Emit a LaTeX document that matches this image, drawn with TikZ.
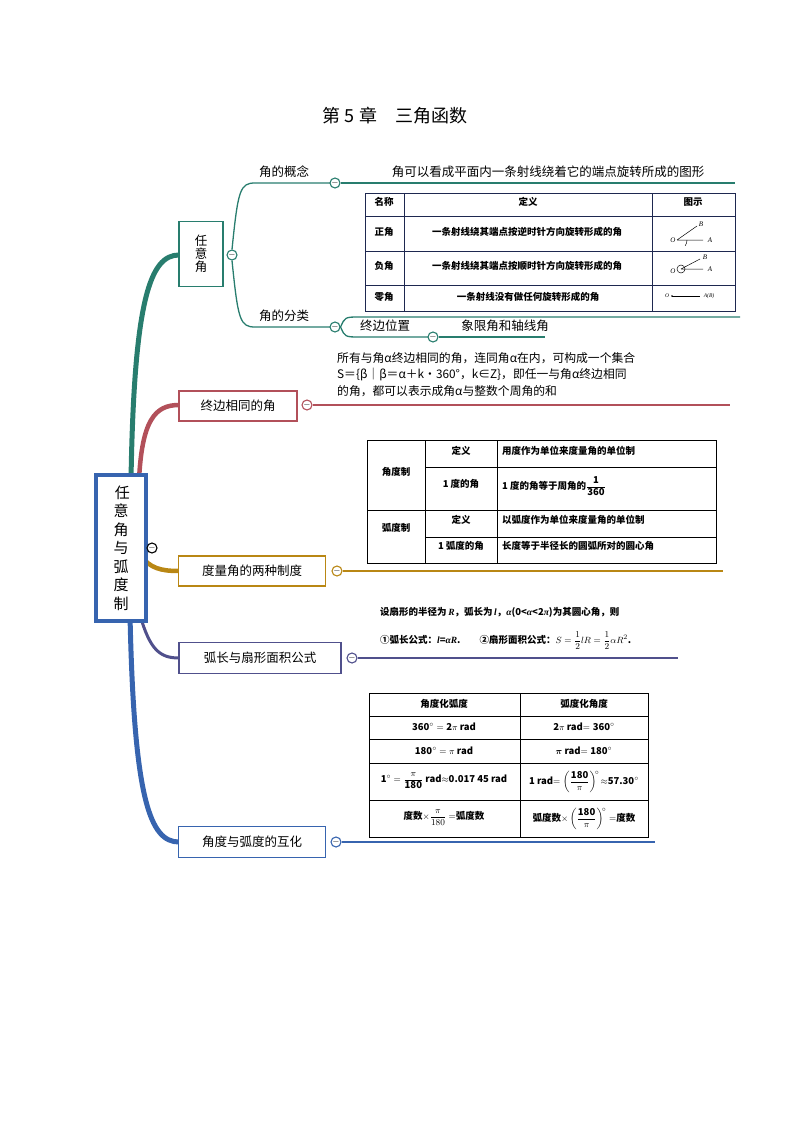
\documentclass[tikz,border=0pt]{standalone}
\usepackage{fontspec}
\setmainfont{Noto Sans CJK SC}
\newfontfamily\ser{Liberation Serif}
\usepackage{amsmath}
\begin{document}
\begin{tikzpicture}[x=1pt,y=-1pt,
 mc/.style={circle,draw,line width=1.1pt,inner sep=0pt,minimum size=10pt,fill=white,font=\fontsize{9}{9}\selectfont,text depth=0pt},
 bx/.style={draw,line width=1.4pt,fill=white,inner sep=0pt,font=\fontsize{12.5}{13}\selectfont},
 lab/.style={font=\fontsize{12.5}{13}\selectfont,inner sep=0pt},
 tb/.style={font=\fontsize{9.5}{10}\selectfont\bfseries,inner sep=0pt},
 tt/.style={draw=black,line width=1pt}]
\useasboundingbox (0,0) rectangle (794,1123);
\definecolor{teal}{RGB}{40,125,110}
\definecolor{red2}{RGB}{178,80,90}
\definecolor{gold}{RGB}{185,135,20}
\definecolor{purp}{RGB}{80,80,140}
\definecolor{blu}{RGB}{55,100,175}
\definecolor{tbl}{RGB}{30,40,80}
\node[font=\fontsize{18}{18}\selectfont] (title) at (395,116) {第 5 章\quad 三角函数};
% branches
\draw[teal,line width=5pt] (131,480) .. controls (134,300) and (150,255) .. (179,255);
\draw[red2,line width=4.5pt] (139,480) .. controls (142,420) and (155,405) .. (179,405);
\draw[gold,line width=4.5pt] (140,555) .. controls (150,568) and (160,571) .. (179,571);
\draw[purp,line width=3pt] (140,615) .. controls (150,650) and (160,658) .. (179,658);
\draw[blu,line width=5pt] (130,615) .. controls (134,800) and (150,842) .. (179,842);
% center
\node[draw=blu,line width=3.5pt,fill=white,minimum width=50pt,minimum height=146pt,inner sep=0pt,font=\fontsize{15}{18.5}\selectfont,align=center] (c) at (121,548) {\,任\\意\\角\\与\\弧\\度\\制};
\node[mc,draw=black] (cm) at (152,548) {$-$};
% branch 1
\node[bx,draw=teal,minimum width=44pt,minimum height=65pt,align=center] (b1) at (201,254) {任\\意\\角};
\node[mc,draw=teal] (m1) at (232,255) {$-$};
\draw[teal,line width=1.3pt] (m1.north) .. controls (238,190) and (240,183) .. (255,183) -- (330,183);
\node[mc,draw=teal] (m11) at (335,183) {$-$};
\draw[teal,line width=1.3pt] (m11) -- (735,183);
\node[lab] (t11) at (284,172) {角的概念};
\node[lab] (t12) at (548,172) {角可以看成平面内一条射线绕着它的端点旋转所成的图形};
\draw[teal,line width=1.3pt] (m1.south) .. controls (238,320) and (240,327) .. (255,327) -- (330,327);
\node[lab] (t13) at (284,316) {角的分类};
\node[mc,draw=teal] (m12) at (335,327) {$-$};
\draw[teal,line width=1.3pt] (m12.east) .. controls (345,317) .. (360,317) -- (740,317);
\draw[teal,line width=1.3pt] (m12.east) .. controls (345,337) .. (360,337) -- (428,337);
\node[mc,draw=teal] (m13) at (433,337) {$-$};
\draw[teal,line width=1.3pt] (m13) -- (545,337);
\node[lab] (t14) at (385,326) {终边位置};
\node[lab] (t15) at (505,326) {象限角和轴线角};
% table 1
\draw[tt,draw=tbl] (365,194) rectangle (735,311);
\draw[tt,draw=tbl] (404,194)--(404,311) (652,194)--(652,311) (365,217)--(735,217) (365,251)--(735,251) (365,285)--(735,285);
\node[tb] at (384,202) {名称}; \node[tb] at (528,202) {定义}; \node[tb] at (693,202) {图示};
\node[tb] at (384,232) {正角}; \node[tb] at (527,232) {一条射线绕其端点按逆时针方向旋转形成的角};
\node[tb] at (384,266) {负角}; \node[tb] at (527,266) {一条射线绕其端点按顺时针方向旋转形成的角};
\node[tb] at (384,297) {零角}; \node[tb] at (528,297) {一条射线没有做任何旋转形成的角};
\draw[line width=0.5pt] (677,240)--(703,240) (677,240)--(697,226);
\draw[line width=0.5pt] (687,240) arc (0:35:10);
\node[font=\ser\itshape\fontsize{7}{7}\selectfont] at (673,240) {O};
\node[font=\ser\itshape\fontsize{7}{7}\selectfont] at (710,240) {A};
\node[font=\ser\itshape\fontsize{7}{7}\selectfont] at (701,224) {B};
\draw[line width=0.5pt] (681,269)--(703,269) (681,269)--(700,259);
\draw[line width=0.5pt] (681,269) circle (4);
\node[font=\ser\itshape\fontsize{7}{7}\selectfont] at (673,271) {O};
\node[font=\ser\itshape\fontsize{7}{7}\selectfont] at (710,269) {A};
\node[font=\ser\itshape\fontsize{7}{7}\selectfont] at (705,257) {B};
\fill (672,296) circle (0.8); \draw[line width=0.4pt] (672,296)--(700,296);
\node[font=\ser\itshape\fontsize{5.5}{5.5}\selectfont] at (667,296) {O};
\node[font=\ser\itshape\fontsize{5.5}{5.5}\selectfont] at (709,296) {A(B)};
% branch 2
\node[bx,draw=red2,minimum width=118pt,minimum height=30pt] (b2) at (238,406) {终边相同的角};
\node[mc,draw=red2] (m2) at (307,405) {$-$};
\draw[red2,line width=1.3pt] (m2) -- (730,405);
\node[lab,font=\fontsize{11.8}{16.5}\selectfont,align=left,anchor=north west] (t2) at (337,352) {所有与角α终边相同的角，连同角α在内，可构成一个集合\\S＝\{β｜β＝α＋k・360°，k∈Z\}，即任一与角α终边相同\\的角，都可以表示成角α与整数个周角的和};
% branch 3
\node[bx,draw=gold,minimum width=147pt,minimum height=30pt] (b3) at (252,571) {度量角的两种制度};
\node[mc,draw=gold] (m3) at (337,571) {$-$};
\draw[gold,line width=1.3pt] (m3) -- (723,571);
\draw[tt] (367,440) rectangle (716,563);
\draw[tt] (425,440)--(425,563) (497,440)--(497,563) (425,467)--(716,467) (367,510)--(716,510) (425,537)--(716,537);
\node[tb] at (396,472) {角度制}; \node[tb] at (396,528) {弧度制};
\node[tb] at (461,451) {定义}; \node[tb] at (461,484) {1 度的角};
\node[tb] at (461,520) {定义}; \node[tb] at (461,546) {1 弧度的角};
\node[tb,anchor=west] at (502,451) {用度作为单位来度量角的单位制};
\node[tb,anchor=west] at (502,486) {1 度的角等于周角的$\dfrac{\mathbf{1}}{\mathbf{360}}$};
\node[tb,anchor=west] at (502,520) {以弧度作为单位来度量角的单位制};
\node[tb,anchor=west] at (502,546) {长度等于半径长的圆弧所对的圆心角};
% branch 4
\node[bx,draw=purp,minimum width=162pt,minimum height=31pt] (b4) at (260,658) {弧长与扇形面积公式};
\node[mc,draw=purp] (m4) at (352,658) {$-$};
\draw[purp,line width=1.3pt] (m4) -- (678,658);
\node[tb,anchor=west] at (380,612) {设扇形的半径为\,{\ser\itshape R}，弧长为\,{\ser\itshape l}，{\ser\itshape α}(0<{\ser\itshape α}<2{\ser\itshape π})为其圆心角，则};
\node[tb,anchor=west] at (380,641) {①弧长公式：{\ser\itshape l}={\ser\itshape αR}.\qquad ②扇形面积公式：$S=\dfrac{1}{2}lR=\dfrac{1}{2}\alpha R^2$.};
% branch 5
\node[bx,draw=blu,minimum width=147pt,minimum height=31pt] (b5) at (252,842) {角度与弧度的互化};
\node[mc,draw=blu] (m5) at (336,842) {$-$};
\draw[blu,line width=1.3pt] (m5) -- (655,842);
\draw[tt] (369,693) rectangle (648,837);
\draw[tt] (520,693)--(520,837) (369,716)--(648,716) (369,739)--(648,739) (369,763)--(648,763) (369,800)--(648,800);
\node[tb] at (444,704) {角度化弧度}; \node[tb] at (584,704) {弧度化角度};
\node[tb] at (444,727) {$\mathbf{360^\circ=2\pi}$ rad}; \node[tb] at (584,727) {$\mathbf{2\pi}$ rad$\mathbf{=360^\circ}$};
\node[tb] at (444,751) {$\mathbf{180^\circ=\pi}$ rad}; \node[tb] at (584,751) {$\boldsymbol\pi$ rad$\mathbf{=180^\circ}$};
\node[tb] at (444,781) {$\mathbf{1^\circ=\dfrac{\pi}{180}}$ rad$\approx$0.017 45 rad}; \node[tb] at (584,782) {1 rad$=\left(\dfrac{\mathbf{180}}{\pi}\right)^{\!\circ}\!\approx$57.30$^\circ$};
\node[tb] at (444,818) {度数$\times\dfrac{\pi}{180}=$弧度数}; \node[tb] at (584,819) {弧度数$\times\left(\dfrac{\mathbf{180}}{\pi}\right)^{\!\circ}=$度数};
\end{tikzpicture}
\end{document}
